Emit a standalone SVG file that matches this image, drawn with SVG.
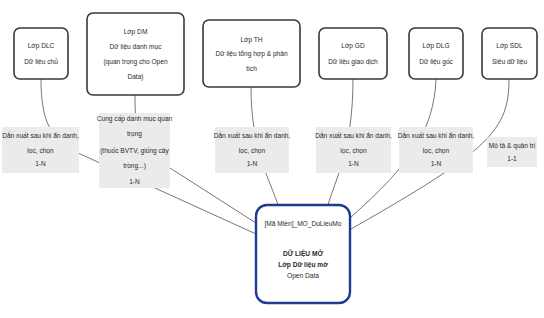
<svg xmlns="http://www.w3.org/2000/svg" width="544" height="318" viewBox="0 0 544 318">
<style>
.box{fill:#fff;stroke:#36393e;stroke-width:1.6}
.lbl{fill:#ebebeb;stroke:none}
.main{fill:#fff;stroke:#1f3a8f;stroke-width:2.4}
.t{font-family:"Liberation Sans",Arial,sans-serif;font-size:6.6px;fill:#2a2a2a;text-anchor:middle}
.b{font-weight:bold}
.c{fill:none;stroke:#666;stroke-width:0.9}
</style>
<rect width="544" height="318" fill="#fff"/>
<g id="connectors">
<path class="c" d="M41,79 C41,120 50,140 78,153 L256,234"/>
<path class="c" d="M135,95 C135,140 140,150 170,168 L256,223"/>
<path class="c" d="M251,87 C251,150 270,180 278,205"/>
<path class="c" d="M353,79 C353,150 335,180 328,205"/>
<path class="c" d="M436,79 C434,130 410,165 351,217"/>
<path class="c" d="M509,79 C509,130 490,150 351,229"/>
</g>
<g id="dlc"><rect class="box" x="14" y="28" width="54" height="51" rx="6"/>
<text class="t" x="41" y="47.5">Lớp DLC</text><text class="t" x="41" y="63.5">Dữ liệu chủ</text></g>
<g id="dm"><rect class="box" x="87" y="13" width="97" height="82" rx="6"/>
<text class="t" x="135.5" y="34">Lớp DM</text><text class="t" x="135.5" y="48.5">Dữ liệu danh mục</text>
<text class="t" x="135.5" y="64">(quan trọng cho Open</text><text class="t" x="135.5" y="79">Data)</text></g>
<g id="th"><rect class="box" x="203" y="20" width="97" height="67" rx="6"/>
<text class="t" x="251.5" y="41.5">Lớp TH</text><text class="t" x="251.5" y="56">Dữ liệu tổng hợp &amp; phân</text>
<text class="t" x="251.5" y="70.5">tích</text></g>
<g id="gd"><rect class="box" x="319" y="28" width="68" height="51" rx="6"/>
<text class="t" x="353" y="47.5">Lớp GD</text><text class="t" x="353" y="63.5">Dữ liệu giao dịch</text></g>
<g id="dlg"><rect class="box" x="409" y="28" width="54" height="51" rx="6"/>
<text class="t" x="436" y="47.5">Lớp DLG</text><text class="t" x="436" y="63.5">Dữ liệu gốc</text></g>
<g id="sdl"><rect class="box" x="482" y="28" width="55" height="51" rx="6"/>
<text class="t" x="509.5" y="47.5">Lớp SDL</text><text class="t" x="509.5" y="63.5">Siêu dữ liệu</text></g>
<g id="label-dlc"><rect class="lbl" x="2" y="127" width="77" height="46"/>
<text class="t" x="40.5" y="137.5">Dẫn xuất sau khi ẩn danh,</text><text class="t" x="40.5" y="152.5">lọc, chọn</text><text class="t" x="40.5" y="166">1-N</text></g>
<g id="label-dm"><rect class="lbl" x="99" y="113" width="71" height="75"/>
<text class="t" x="134.5" y="121">Cung cấp danh mục quan</text><text class="t" x="134.5" y="136">trọng</text>
<text class="t" x="134.5" y="153">(thuốc BVTV, giống cây</text><text class="t" x="134.5" y="168">trồng...)</text>
<text class="t" x="134.5" y="183.5">1-N</text></g>
<g id="label-th"><rect class="lbl" x="215" y="127" width="74" height="46"/>
<text class="t" x="252" y="137.5">Dẫn xuất sau khi ẩn danh,</text><text class="t" x="252" y="152.5">lọc, chọn</text><text class="t" x="252" y="166">1-N</text></g>
<g id="label-gd"><rect class="lbl" x="316" y="127" width="75" height="46"/>
<text class="t" x="353.5" y="137.5">Dẫn xuất sau khi ẩn danh,</text><text class="t" x="353.5" y="152.5">lọc, chọn</text><text class="t" x="353.5" y="166">1-N</text></g>
<g id="label-dlg"><rect class="lbl" x="399" y="127" width="74" height="46"/>
<text class="t" x="436" y="137.5">Dẫn xuất sau khi ẩn danh,</text><text class="t" x="436" y="152.5">lọc, chọn</text><text class="t" x="436" y="166">1-N</text></g>
<g id="label-sdl"><rect class="lbl" x="487" y="137" width="50" height="30"/>
<text class="t" x="512" y="147.5">Mô tả &amp; quản trị</text><text class="t" x="512" y="161">1-1</text></g>
<g id="main"><rect class="main" x="256" y="205" width="94" height="98" rx="11"/>
<text class="t" x="303" y="225.5">[Mã Miền]_MO_DuLieuMo</text>
<text class="t b" x="303" y="256">DỮ LIỆU MỞ</text>
<text class="t b" x="303" y="266.5">Lớp Dữ liệu mở</text>
<text class="t" x="303" y="277.5">Open Data</text></g>
</svg>
